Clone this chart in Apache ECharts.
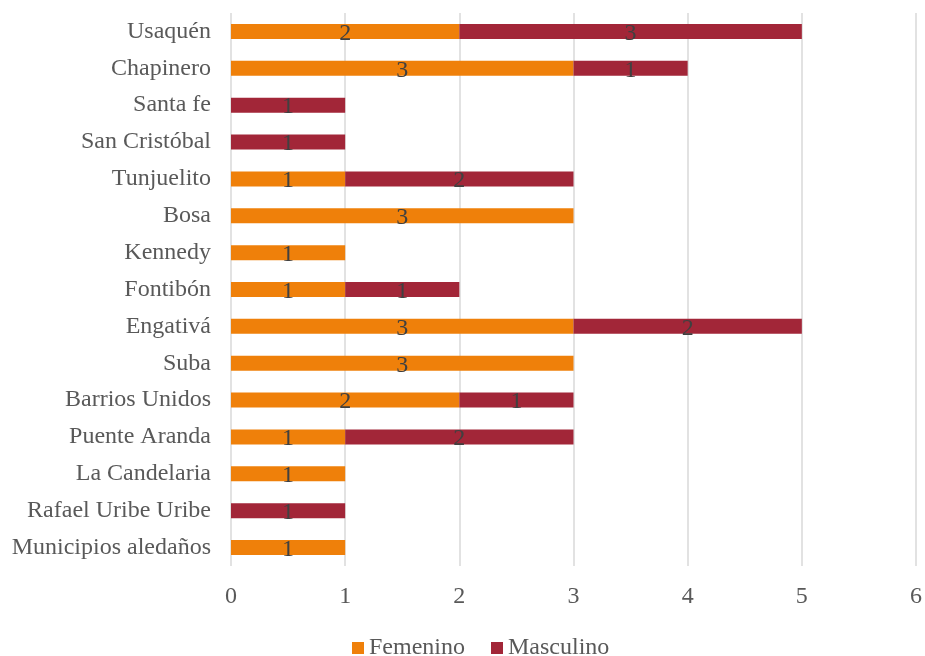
<!DOCTYPE html>
<html>
<head>
<meta charset="utf-8">
<script src="https://cdn.jsdelivr.net/npm/echarts@6/dist/echarts.min.js"></script>
<style>
  html, body { margin: 0; padding: 0; background: #fff; }
  #chartBox { width: 925px; height: 656px; }
</style>
</head>
<body>
<div id="chartBox"></div>
<script>
// localidades, de arriba hacia abajo
var localidades = ['Usaquén', 'Chapinero', 'Santa fe', 'San Cristóbal', 'Tunjuelito', 'Bosa', 'Kennedy',
  'Fontibón', 'Engativá', 'Suba', 'Barrios Unidos', 'Puente Aranda', 'La Candelaria',
  'Rafael Uribe Uribe', 'Municipios aledaños']
var femenino = [2, 3, null, null, 1, 3, 1, 1, 3, 3, 2, 1, 1, null, 1]
var masculino = [3, 1, 1, 1, 2, null, null, 1, 2, null, 1, 2, null, 1, null]

var fuente = 'Liberation Serif, Times New Roman, serif'
var etiqueta = {
  show: true,
  position: 'inside',
  color: '#404040',
  fontSize: 24,
  fontFamily: fuente,
  offset: [0, 2]
}

var myChart = echarts.init(document.getElementById('chartBox'))
myChart.setOption({
  animation: false,
  grid: {
    left: 231,
    right: 8,
    top: 13,
    bottom: 90
  },
  legend: {
    left: 347,
    bottom: -9,
    itemGap: 26,
    icon: 'rect',
    itemWidth: 12,
    itemHeight: 12,
    textStyle: {
      color: '#595959',
      fontSize: 24,
      fontFamily: fuente
    },
    data: ['Femenino', 'Masculino']
  },
  xAxis: {
    type: 'value',
    min: 0,
    max: 6,
    interval: 1,
    axisLine: { show: false },
    axisTick: { show: false },
    axisLabel: {
      color: '#595959',
      fontSize: 24,
      fontFamily: fuente,
      margin: 19
    },
    splitLine: {
      lineStyle: { color: '#d9d9d9', width: 1.5 }
    }
  },
  yAxis: {
    type: 'category',
    inverse: true,
    data: localidades,
    axisLine: { show: false },
    axisTick: { show: false },
    axisLabel: {
      color: '#595959',
      fontSize: 24,
      fontFamily: fuente,
      margin: 20
    }
  },
  series: [
    {
      name: 'Femenino',
      type: 'bar',
      stack: 'total',
      barWidth: 15,
      itemStyle: { color: '#ef800a' },
      label: etiqueta,
      data: femenino
    },
    {
      name: 'Masculino',
      type: 'bar',
      stack: 'total',
      barWidth: 15,
      itemStyle: { color: '#a22638' },
      label: etiqueta,
      data: masculino
    }
  ]
})
</script>
</body>
</html>
